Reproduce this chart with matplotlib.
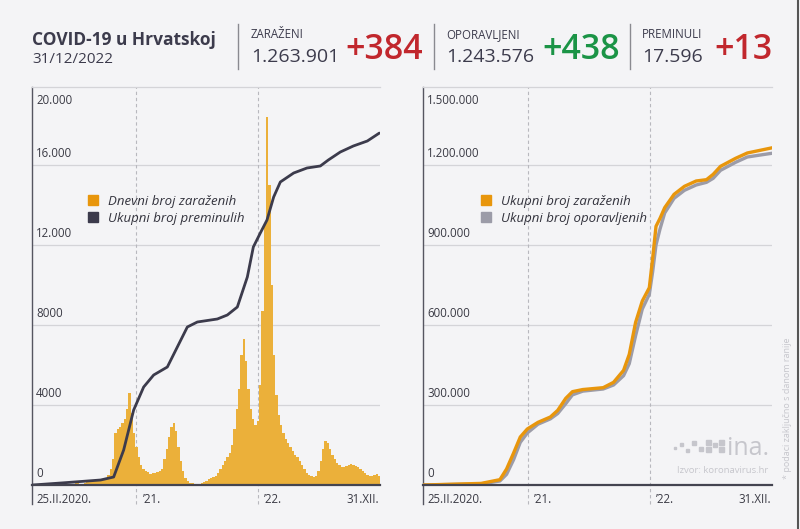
import numpy as np
import pandas as pd
import matplotlib
matplotlib.use("Agg")
import matplotlib.pyplot as plt
import matplotlib.dates as mdates
import matplotlib.transforms as mtransforms
from matplotlib.lines import Line2D
from matplotlib.patches import Rectangle

plt.rcParams['font.family'] = ['Open Sans', 'DejaVu Sans']

# --- podaci ---
start_date = '2020-02-25'
end_date = '2022-12-31'

# tjedne procjene dnevnog broja zarazenih (ocitano s grafa), 149 tjedana
daily_cases_weekly = [
    0, 5, 20, 60, 80, 70, 50, 40, 25, 15, 10, 5, 3, 2, 2, 10, 40,
    70, 90, 80, 60, 50, 100, 180, 250, 250, 220, 200, 220, 250, 300,
    350, 500, 800, 1300, 2600, 2800, 2900, 3100, 3300, 3800, 4600, 3600, 2600, 1900,
    1400, 1000, 800, 700, 650, 550, 600, 600, 650, 700, 800, 1300, 1800,
    2400, 2900, 3100, 2700, 1900, 1200, 700, 350, 200, 120, 80, 60, 50,
    60, 90, 150, 220, 300, 350, 400, 450, 600, 800, 1000, 1200, 1400, 1600,
    2000, 2800, 3800, 4800, 6500, 7300, 6200, 4800, 3800, 3300, 3000, 3200,
    5000, 8700, 13000, 18400, 15000, 10000, 6500, 4500, 3500, 3000, 2600,
    2300, 2100, 1900, 1700, 1500, 1400, 1200, 1000, 800, 600, 500, 450, 400,
    450, 700, 1200, 1800, 2200, 2100, 1800, 1500, 1300, 1100, 1000, 900,
    900, 950, 1000, 1050, 1000, 950, 900, 800, 700, 600, 500, 450, 450,
    500, 550, 450,
]

# ukupni broj preminulih
deaths_dates = [
    '2020-02-25', '2020-05-28', '2020-09-16', '2020-10-25', '2020-11-24',
    '2020-12-24', '2021-01-23', '2021-02-22', '2021-04-04', '2021-05-04',
    '2021-06-03', '2021-07-03', '2021-09-01', '2021-10-01', '2021-10-31',
    '2021-11-30', '2021-12-18', '2022-01-08', '2022-01-28', '2022-02-17',
    '2022-03-09', '2022-04-18', '2022-05-28', '2022-07-07', '2022-07-31',
    '2022-09-05', '2022-10-14', '2022-11-25', '2022-12-31',
]
deaths_total = [
    0, 110, 250, 400, 1750, 3750, 4900, 5500, 5900, 6900, 7900, 8150, 8300,
    8500, 8900, 10400, 11900, 12600, 13250, 14400, 15150, 15600, 15850,
    15950, 16250, 16650, 16950, 17200, 17596,
]

# ukupni broj zarazenih / oporavljenih
totals_dates = [
    '2020-02-25', '2020-08-15', '2020-10-10', '2020-10-30', '2020-11-20',
    '2020-12-10', '2020-12-31', '2021-02-01', '2021-03-10', '2021-04-01',
    '2021-04-25', '2021-05-15', '2021-06-15', '2021-08-15', '2021-09-15',
    '2021-10-15', '2021-11-01', '2021-11-20', '2021-12-10', '2021-12-31',
    '2022-01-10', '2022-01-20', '2022-02-01', '2022-02-15', '2022-03-15',
    '2022-04-15', '2022-05-20', '2022-06-20', '2022-07-10', '2022-08-01',
    '2022-09-15', '2022-10-20', '2022-12-01', '2022-12-31',
]
infected_total = [
    0, 6000, 20000, 60000, 120000, 180000, 210000, 235000, 255000, 280000,
    325000, 350000, 358000, 365000, 385000, 430000, 490000, 610000, 690000,
    740000, 850000, 970000, 1000000, 1040000, 1090000, 1120000, 1140000,
    1145000, 1165000, 1195000, 1225000, 1245000, 1256000, 1263901,
]
recovered_total = [
    0, 4000, 15000, 40000, 95000, 160000, 195000, 228000, 248000, 268000,
    305000, 338000, 352000, 360000, 375000, 410000, 455000, 560000, 660000,
    715000, 800000, 900000, 960000, 1020000, 1075000, 1105000, 1125000,
    1135000, 1150000, 1180000, 1210000, 1230000, 1238000, 1243576,
]

left_ticks = [0, 4000, 8000, 12000, 16000, 20000]
left_tick_labels = ['0', '4000', '8000', '12.000', '16.000', '20.000']
right_ticks = [0, 300000, 600000, 900000, 1200000, 1500000]
right_tick_labels = ['0', '300.000', '600.000', '900.000', '1.200.000', '1.500.000']
x_labels = ['25.II.2020.', '\u201921.', '\u201922.', '31.XII.']
year_marks = ['2021-01-01', '2022-01-01']

header_items = [
    ('ZARAŽENI', '1.263.901', '+384', '#c1272d'),
    ('OPORAVLJENI', '1.243.576', '+438', '#1b9446'),
    ('PREMINULI', '17.596', '+13', '#c1272d'),
]

BG = '#f4f4f6'
DARK = '#3c3b4c'
GRID = '#d4d4d8'
ORANGE = '#e8960c'
BAR = '#ebb03a'
GREY_LINE = '#9c9ca8'

W, H = 800, 529
fig = plt.figure(figsize=(8, 5.29), dpi=100)
fig.patch.set_facecolor(BG)


def fx(x):
    return x / W


def fy(y):
    return 1 - y / H


# --- zaglavlje ---
fig.text(fx(32), fy(45), 'COVID-19 u Hrvatskoj', fontsize=12.5, fontweight='bold',
         color=DARK, va='baseline')
fig.text(fx(32), fy(63), '31/12/2022', fontsize=11, color=DARK, va='baseline')

sep_x = [238, 434, 630]
label_x = [251, 446, 642]
plus_x = [345, 542, 714]
for sx, lx, px, (name, total, plus, col) in zip(sep_x, label_x, plus_x, header_items):
    fig.add_artist(Line2D([fx(sx), fx(sx)], [fy(24), fy(69)], color='#8a8a90', lw=1))
    fig.text(fx(lx), fy(38), name, fontsize=8.3, color=DARK, va='baseline')
    fig.text(fx(lx), fy(62), total, fontsize=14, color=DARK, va='baseline')
    fig.text(fx(px), fy(59), plus, fontsize=24.5, fontweight='semibold', color=col,
             va='baseline')

# desni rub
fig.add_artist(Line2D([0.998, 0.998], [0, 1], color='#555555', lw=1.5))

# --- osi ---
ax1 = fig.add_axes([fx(32), fy(485), fx(348), (485 - 87) / H])
ax2 = fig.add_axes([fx(423), fy(485), fx(349), (485 - 87) / H])

x0 = mdates.date2num(pd.Timestamp(start_date))
x1 = mdates.date2num(pd.Timestamp(end_date))

weeks = mdates.date2num(pd.date_range(start_date, periods=len(daily_cases_weekly), freq='7D'))
ax1.bar(weeks, daily_cases_weekly, width=6.6, align='edge', color=BAR,
        edgecolor='none', zorder=2)
ax1.plot(mdates.date2num(pd.to_datetime(deaths_dates)), deaths_total, color=DARK,
         lw=2, solid_joinstyle='round', solid_capstyle='round', zorder=3)

tdates = mdates.date2num(pd.to_datetime(totals_dates))
ax2.plot(tdates, recovered_total, color=GREY_LINE, lw=2.4, zorder=3,
         solid_joinstyle='round')
ax2.plot(tdates, infected_total, color=ORANGE, lw=2.4, zorder=4,
         solid_joinstyle='round')


def style_axis(ax, ticks, labels, ymax):
    ax.set_facecolor(BG)
    ax.set_xlim(x0 - 2, x1 + 2)
    ax.set_ylim(0, ymax)
    ax.set_yticks(ticks[:-1])
    ax.set_xticks([])
    ax.tick_params(axis='y', length=0, labelleft=False)
    ax.grid(axis='y', color=GRID, lw=0.9, zorder=0)
    ax.set_axisbelow(True)
    ax.spines['right'].set_visible(False)
    ax.spines['top'].set_color(GRID)
    ax.spines['top'].set_linewidth(0.9)
    ax.spines['bottom'].set_color('#444450')
    ax.spines['bottom'].set_linewidth(1.6)
    ax.spines['bottom'].set_zorder(5)
    ax.spines['left'].set_color('#555560')
    ax.spines['left'].set_linewidth(1)
    # produzena lijeva os ispod grafa
    ax.plot([0, 0], [-0.047, 0], transform=ax.transAxes, color='#555560',
            lw=1, clip_on=False)

    trans = mtransforms.blended_transform_factory(ax.transAxes, ax.transData)
    for i, (v, lab) in enumerate(zip(ticks, labels)):
        off = -11 if i == len(ticks) - 1 else 8.5
        ax.annotate(lab, xy=(0.012, v), xycoords=trans, xytext=(0, off),
                    textcoords='offset points', ha='left', va='center',
                    fontsize=8.3, color='#3a3a44')

    ym = [mdates.date2num(pd.Timestamp(d)) for d in year_marks]
    for d in ym:
        ax.axvline(d, ymin=-0.047, ymax=1, color='#b8b8be', lw=0.8,
                   ls=(0, (3, 2.5)), clip_on=False, zorder=1)

    tx = mtransforms.blended_transform_factory(ax.transData, ax.transAxes)
    xpos = [x0, ym[0], ym[1], x1]
    offs = [4, 6, 6, 0]
    has = ['left', 'left', 'left', 'right']
    for xp, lab, o, ha in zip(xpos, x_labels, offs, has):
        ax.annotate(lab, xy=(xp, 0), xycoords=tx, xytext=(o * 0.75, -10.5),
                    textcoords='offset points', ha=ha, va='center',
                    fontsize=8.3, color='#3a3a44')


style_axis(ax1, left_ticks, left_tick_labels, 19900)
style_axis(ax2, right_ticks, right_tick_labels, 1492500)

# legende
h1 = [Line2D([], [], marker='s', ls='none', ms=7, color=ORANGE),
      Line2D([], [], marker='s', ls='none', ms=7, color=DARK)]
fig.legend(h1, ['Dnevni broj zaraženih', 'Ukupni broj preminulih'],
           loc='upper left', bbox_to_anchor=(fx(88), fy(195)), frameon=False,
           borderpad=0, borderaxespad=0, handlelength=0.8, handletextpad=0.7,
           labelspacing=0.3, prop={'style': 'italic', 'size': 9.5},
           labelcolor='#33333d')
h2 = [Line2D([], [], marker='s', ls='none', ms=7, color=ORANGE),
      Line2D([], [], marker='s', ls='none', ms=7, color=GREY_LINE)]
fig.legend(h2, ['Ukupni broj zaraženih', 'Ukupni broj oporavljenih'],
           loc='upper left', bbox_to_anchor=(fx(481), fy(195)), frameon=False,
           borderpad=0, borderaxespad=0, handlelength=0.8, handletextpad=0.7,
           labelspacing=0.3, prop={'style': 'italic', 'size': 9.5},
           labelcolor='#33333d')

# logo i izvor
LOGO = '#c6c6cc'
sq = [(674, 447, 2), (680, 443, 3), (686, 449, 3), (692, 441, 4), (699, 447, 4),
      (706, 440, 5), (706, 447, 5), (713, 443, 4), (719, 440, 5), (719, 447, 5)]
for x, y, s in sq:
    fig.add_artist(Rectangle((fx(x), fy(y + s)), s / W, s / H, color=LOGO,
                             transform=fig.transFigure))
fig.text(fx(727), fy(455), 'ina.', fontsize=18, color=LOGO, va='baseline')
fig.text(fx(768), fy(473), 'Izvor: koronavirus.hr', fontsize=6.8, color=LOGO,
         ha='right', va='baseline')
fig.text(fx(788), fy(408), '* podaci zaključno s danom ranije', fontsize=6.5,
         color=LOGO, rotation=90, ha='center', va='center')

fig.savefig('out.png', dpi=100, facecolor=BG)
